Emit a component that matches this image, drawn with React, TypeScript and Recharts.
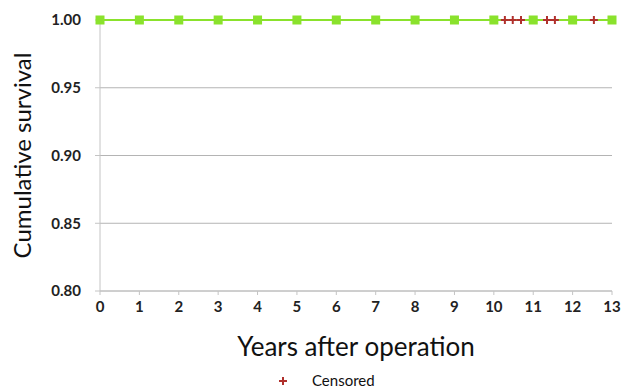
import {
  CartesianGrid,
  ComposedChart,
  Line,
  Scatter,
  XAxis,
  YAxis,
} from 'recharts'

// survival curve: check points at each whole year
const years = [0, 1, 2, 3, 4, 5, 6, 7, 8, 9, 10, 11, 12, 13]
const survival = [1, 1, 1, 1, 1, 1, 1, 1, 1, 1, 1, 1, 1, 1]

// censored cases
const censoredYears = [10.28, 10.48, 10.69, 11.35, 11.55, 12.54]
const censoredSurvival = [1, 1, 1, 1, 1, 1]

const xTicks = [0, 1, 2, 3, 4, 5, 6, 7, 8, 9, 10, 11, 12, 13]
const yTicks = [0.8, 0.85, 0.9, 0.95, 1.0]

const curve = years.map((x, i) => ({ x, y: survival[i] }))
const censored = censoredYears.map((x, i) => ({ x, y: censoredSurvival[i] }))

const FONT = 'Lato, "Open Sans", sans-serif'
const GREEN = '#8ae22c'
const RED = '#b0302c'

const SquareDot = (props: any) => {
  const { cx, cy } = props
  if (cx == null || cy == null) return null
  return <rect x={cx - 4.5} y={cy - 4.5} width={9} height={9} fill={GREEN} />
}

const PlusMark = (props: any) => {
  const { cx, cy } = props
  if (cx == null || cy == null) return null
  return (
    <g stroke={RED} strokeWidth={2}>
      <line x1={cx - 4} y1={cy} x2={cx + 4} y2={cy} />
      <line x1={cx} y1={cy - 4} x2={cx} y2={cy + 4} />
    </g>
  )
}

export default function App() {
  return (
    <div style={{ position: 'absolute', left: 0, top: 0, width: 621, height: 391, background: '#fff' }}>
      <ComposedChart
        width={621}
        height={391}
        margin={{ top: 20, right: 9, bottom: 30, left: 0 }}
      >
        <CartesianGrid vertical={false} stroke="#b4b4b4" />
        <XAxis
          type="number"
          dataKey="x"
          domain={[0, 13]}
          ticks={xTicks}
          interval={0}
          stroke="#c4c4c4"
          tickSize={4}
          tickMargin={6}
          height={70}
          tick={{ fill: '#222', fontSize: 15, fontFamily: FONT, fontWeight: 700 }}
          label={{
            value: 'Years after operation',
            position: 'insideBottom',
            offset: 5,
            fill: '#111',
            fontSize: 26,
            fontFamily: FONT,
          }}
        />
        <YAxis
          type="number"
          dataKey="y"
          domain={[0.8, 1]}
          ticks={yTicks}
          interval={0}
          width={100}
          stroke="#c4c4c4"
          tickSize={5}
          tickMargin={14}
          tickFormatter={(v: number) => v.toFixed(2)}
          tick={{ fill: '#222', fontSize: 15, fontFamily: FONT, fontWeight: 700 }}
          label={{
            value: 'Cumulative survival',
            angle: -90,
            position: 'insideLeft',
            offset: 22,
            style: { textAnchor: 'middle' },
            fill: '#111',
            fontSize: 24,
            fontFamily: FONT,
          }}
        />
        <Line
          data={curve}
          dataKey="y"
          stroke={GREEN}
          strokeWidth={2}
          dot={<SquareDot />}
          activeDot={false}
          isAnimationActive={false}
        />
        <Scatter
          data={censored}
          dataKey="y"
          shape={<PlusMark />}
          isAnimationActive={false}
        />
        <g>
          <PlusMark cx={283} cy={381} />
          <text x={312} y={386} fontSize={15} fontFamily={FONT} fill="#111">
            Censored
          </text>
        </g>
      </ComposedChart>
    </div>
  )
}
